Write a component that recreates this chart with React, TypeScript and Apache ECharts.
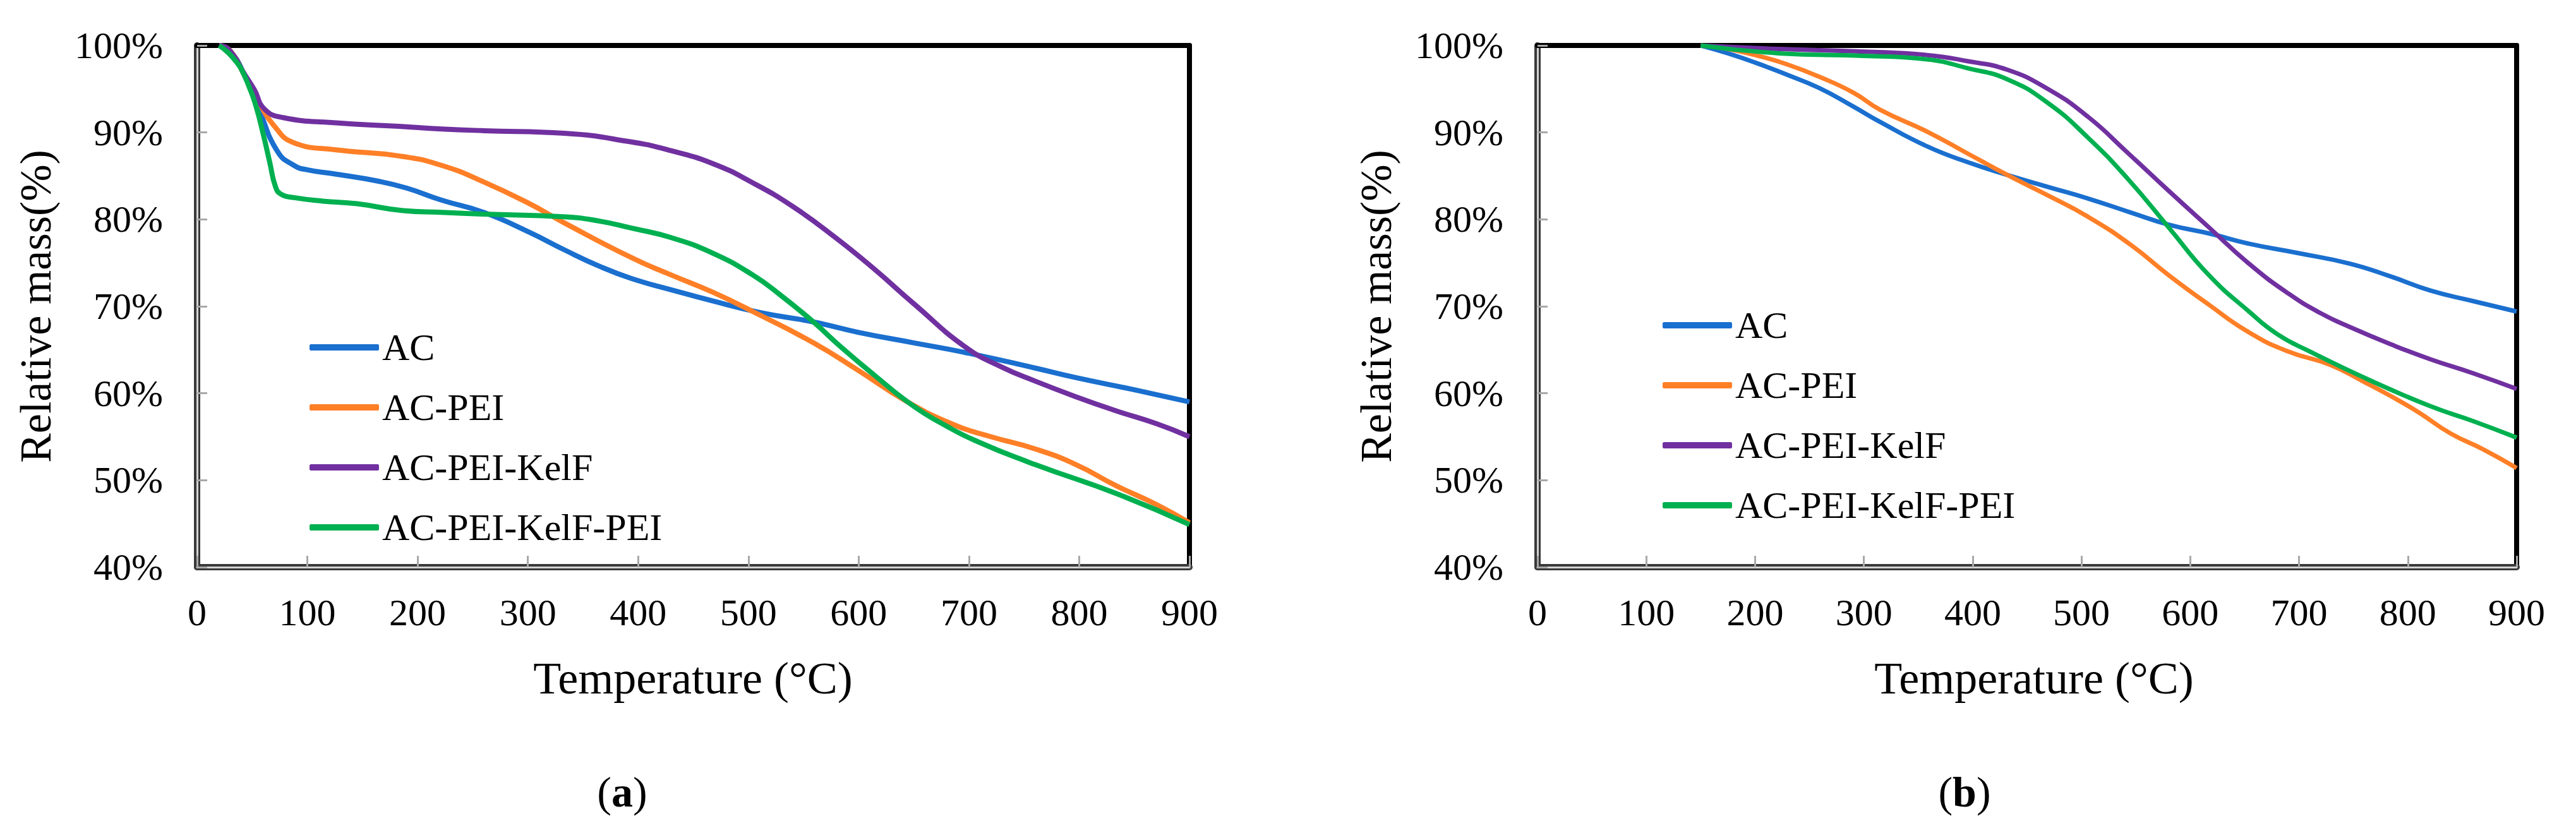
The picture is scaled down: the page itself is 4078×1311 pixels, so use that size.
import { useEffect, useRef } from 'react'
import * as echarts from 'echarts'

const NAMES = ['AC', 'AC-PEI', 'AC-PEI-KelF', 'AC-PEI-KelF-PEI']
const COLORS = ['#1a6fcf', '#ff7f27', '#7030a0', '#00b050']

// panel (a)
const acA = [[20, 100], [30, 99.4], [44, 96.3], [56, 92.7], [73, 87.8], [88, 86.2], [100, 85.7], [126, 85.2], [164, 84.4], [190, 83.6], [222, 82.2], [260, 80.8], [300, 78.6], [333, 76.5], [365, 74.6], [394, 73.2], [430, 71.9], [468, 70.6], [510, 69.3], [559, 68.2], [600, 67.0], [650, 65.8], [700, 64.6], [760, 62.9], [797, 61.8], [850, 60.4], [900, 59.0]]
const acPeiA = [[20, 100], [30, 99.4], [44, 96.3], [56, 93.5], [69, 90.9], [88, 88.8], [126, 88.0], [183, 87.3], [222, 86.2], [260, 84.3], [300, 81.9], [333, 79.6], [394, 75.6], [430, 73.6], [468, 71.6], [504, 69.4], [559, 65.8], [600, 62.6], [643, 59.1], [686, 56.4], [720, 55.0], [760, 53.6], [797, 51.8], [833, 49.4], [870, 47.2], [900, 45.1]]
const kelfA = [[20, 100], [29, 99.5], [44, 96.5], [52, 94.9], [61, 92.7], [78, 91.7], [126, 91.1], [183, 90.7], [222, 90.4], [260, 90.2], [333, 89.9], [394, 88.9], [430, 87.9], [468, 86.4], [504, 84.2], [540, 81.5], [578, 78.0], [614, 74.3], [650, 70.3], [697, 65.3], [730, 63.0], [760, 61.4], [797, 59.6], [833, 58.0], [870, 56.5], [900, 55.0]]
const kelfPeiA = [[20, 100], [28, 99.2], [35, 98.2], [40, 97.3], [47, 95.3], [53, 93.2], [60, 89.8], [66, 86.5], [71, 83.8], [76, 82.9], [88, 82.5], [114, 82.1], [145, 81.8], [187, 81.0], [222, 80.8], [260, 80.6], [333, 80.3], [365, 79.8], [394, 79.0], [430, 77.9], [468, 76.1], [504, 73.6], [530, 71.2], [559, 68.2], [585, 65.2], [614, 62.1], [650, 58.5], [680, 56.2], [705, 54.6], [760, 51.8], [833, 48.5], [900, 44.9]]

// panel (b)
const acB = [[150, 100], [175, 99.1], [203, 97.9], [230, 96.6], [259, 95.1], [290, 93.0], [315, 91.2], [358, 88.4], [395, 86.6], [432, 85.1], [470, 83.7], [506, 82.4], [545, 80.8], [580, 79.4], [620, 78.3], [654, 77.2], [700, 76.1], [747, 74.9], [785, 73.4], [821, 71.8], [860, 70.6], [900, 69.4]]
const acPeiB = [[150, 100], [175, 99.6], [203, 98.8], [230, 97.8], [259, 96.4], [290, 94.6], [315, 92.6], [358, 90.1], [395, 87.6], [432, 85.1], [470, 82.7], [506, 80.3], [545, 77.1], [580, 73.6], [617, 70.2], [654, 67.0], [690, 64.8], [728, 63.3], [760, 61.3], [784, 59.7], [810, 57.8], [839, 55.4], [870, 53.5], [900, 51.4]]
const kelfB = [[150, 100], [222, 99.6], [300, 99.3], [358, 98.9], [395, 98.2], [432, 97.2], [469, 95.0], [506, 91.8], [543, 87.6], [580, 83.3], [617, 79.1], [654, 74.9], [691, 71.4], [720, 69.2], [747, 67.6], [785, 65.6], [821, 63.9], [860, 62.3], [900, 60.5]]
const kelfPeiB = [[150, 100], [222, 99.1], [300, 98.8], [358, 98.4], [395, 97.4], [432, 96.1], [469, 93.4], [506, 89.4], [543, 84.6], [580, 79.1], [617, 73.6], [654, 69.4], [680, 66.8], [710, 64.8], [765, 61.5], [821, 58.5], [860, 56.8], [900, 54.9]]

const PANELS = [
  { label: 'a', series: [acA, acPeiA, kelfA, kelfPeiA] },
  { label: 'b', series: [acB, acPeiB, kelfB, kelfPeiB] },
]

const FONT = '"Liberation Serif", "Times New Roman", serif'

const GRIDS = [
  { left: 312, top: 72, width: 1571, height: 826 },
  { left: 2434, top: 72, width: 1550, height: 826 },
]
const LEGENDS = [
  { left: 485, top: 515 },
  { left: 2627, top: 480 },
]
const YTITLE_X = [56, 2178]
const XTITLE_X = [1097, 3220]
const TAG_X = [985, 3110]

const X_RANGE = { min: 0, max: 900, interval: 100 }
const Y_RANGE = { min: 40, max: 100, interval: 10 }

function axesFor(g: number) {
  const none = { axisTick: { show: false }, axisLabel: { show: false }, splitLine: { show: false } }
  const xs = [
    {
      gridIndex: g, type: 'value', ...X_RANGE, position: 'bottom',
      axisLine: { show: true, onZero: false, lineStyle: { color: '#3a3a3a', width: 10 } },
      axisTick: { show: true, inside: true, length: 18, lineStyle: { color: '#a8a8a8', width: 3 } },
      axisLabel: { fontSize: 60, fontFamily: FONT, color: '#000', margin: 42 },
      splitLine: { show: false },
    },
    {
      gridIndex: g, type: 'value', ...X_RANGE, position: 'bottom',
      axisLine: { show: true, onZero: false, lineStyle: { color: '#d4d4d4', width: 3 } },
      ...none,
    },
    {
      gridIndex: g, type: 'value', ...X_RANGE, position: 'top',
      axisLine: { show: true, onZero: false, lineStyle: { color: '#000', width: 8 } },
      ...none,
    },
  ]
  const ys = [
    {
      gridIndex: g, type: 'value', ...Y_RANGE, position: 'left',
      axisLine: { show: true, onZero: false, lineStyle: { color: '#3a3a3a', width: 10 } },
      axisTick: { show: true, inside: true, length: 16, lineStyle: { color: '#a8a8a8', width: 3 } },
      axisLabel: { fontSize: 60, fontFamily: FONT, color: '#000', margin: 54, formatter: '{value}%' },
      splitLine: { show: false },
    },
    {
      gridIndex: g, type: 'value', ...Y_RANGE, position: 'left',
      axisLine: { show: true, onZero: false, lineStyle: { color: '#d4d4d4', width: 3 } },
      ...none,
    },
    {
      gridIndex: g, type: 'value', ...Y_RANGE, position: 'right',
      axisLine: { show: true, onZero: false, lineStyle: { color: '#000', width: 8 } },
      ...none,
    },
  ]
  return { xs, ys }
}

export default function App() {
  const chartRef = useRef<HTMLDivElement>(null)

  useEffect(() => {
    document.body.style.margin = '0'
    if (!chartRef.current) return
    const chart = echarts.init(chartRef.current, undefined, { renderer: 'svg' })

    const xAxis: any[] = []
    const yAxis: any[] = []
    const series: any[] = []
    const legend: any[] = []
    const graphic: any[] = []

    PANELS.forEach((p, g) => {
      const { xs, ys } = axesFor(g)
      xAxis.push(...xs)
      yAxis.push(...ys)
      p.series.forEach((data, i) => {
        series.push({
          name: NAMES[i],
          type: 'line',
          xAxisIndex: g * 3,
          yAxisIndex: g * 3,
          data,
          smooth: 0.5,
          symbol: 'none',
          lineStyle: { color: COLORS[i], width: g === 0 ? 8 : 7 },
          itemStyle: { color: COLORS[i] },
          z: 3,
        })
      })
      legend.push({
        ...LEGENDS[g],
        orient: 'vertical',
        data: NAMES,
        icon: 'roundRect',
        itemWidth: 110,
        itemHeight: 10,
        itemGap: 35,
        selectedMode: false,
        textStyle: { fontSize: 60, lineHeight: 60, fontFamily: FONT, color: '#000' },
      })
      graphic.push(
        {
          type: 'text', x: YTITLE_X[g], y: 485, rotation: Math.PI / 2,
          style: { text: 'Relative mass(%)', font: `70px ${FONT}`, fill: '#000', align: 'center', verticalAlign: 'middle' },
        },
        {
          type: 'text', x: XTITLE_X[g], y: 1074,
          style: { text: 'Temperature (°C)', font: `72px ${FONT}`, fill: '#000', align: 'center', verticalAlign: 'middle' },
        },
        {
          type: 'text', x: TAG_X[g], y: 1254,
          style: {
            text: `{n|(}{b|${p.label}}{n|)}`,
            align: 'center',
            verticalAlign: 'middle',
            rich: {
              n: { fontSize: 68, fontFamily: FONT, fill: '#000' },
              b: { fontSize: 68, fontFamily: FONT, fontWeight: 'bold', fill: '#000' },
            },
          },
        },
      )
    })

    chart.setOption({
      animation: false,
      backgroundColor: '#fff',
      grid: GRIDS,
      xAxis,
      yAxis,
      legend,
      series,
      graphic,
    })

    return () => chart.dispose()
  }, [])

  return <div ref={chartRef} style={{ width: 4078, height: 1311 }} />
}
